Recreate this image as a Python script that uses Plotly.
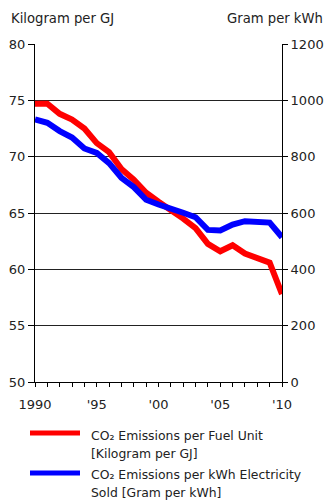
import plotly.graph_objects as go

years = list(range(1990, 2011))
fuel_kg_per_gj = [74.7, 74.7, 73.8, 73.3, 72.5, 71.2, 70.4, 68.9, 67.95, 66.8, 66.0,
                  65.3, 64.5, 63.65, 62.26, 61.6, 62.14, 61.4, 61.0, 60.6, 57.8]
elec_g_per_kwh = [932, 920, 891, 868, 829, 813, 777, 725, 692, 647, 630,
                  617, 601, 585, 540, 538, 559, 571, 566, 566, 514]
tick_vals = [1990, 1995, 2000, 2005, 2010]
tick_text = ["1990", "'95", "'00", "'05", "'10"]
series_names = [["CO₂ Emissions per Fuel Unit", "[Kilogram per GJ]"],
                ["CO₂ Emissions per kWh Electricity", "Sold [Gram per kWh]"]]
series_colors = ["#ff0000", "#0000ff"]

font = "DejaVu Sans, Verdana, sans-serif"
W, H = 327, 501

fig = go.Figure()
fig.add_trace(go.Scatter(x=years, y=fuel_kg_per_gj, mode="lines",
                         line=dict(color=series_colors[0], width=6),
                         name=" ".join(series_names[0])))
fig.add_trace(go.Scatter(x=years, y=elec_g_per_kwh, mode="lines", yaxis="y2",
                         line=dict(color=series_colors[1], width=6),
                         name=" ".join(series_names[1])))

# window-pixel layout (page margin removed below)
L, T = 35, 44
R = W - 282
B = H - 382
pw, ph = W - L - R, H - T - B
def px(x):
    return (x - L) / pw
def py(y):
    return (H - B - y) / ph

shapes = []
annotations = []
legend_rows = [(433, 435, 453), (473, 474, 492)]
for (ly, t1, t2), names, col in zip(legend_rows, series_names, series_colors):
    shapes.append(dict(type="line", xref="paper", yref="paper",
                       x0=px(30), x1=px(80), y0=py(ly), y1=py(ly),
                       line=dict(color=col, width=5)))
    annotations.append(dict(text=names[0], xref="paper", yref="paper", x=px(89), y=py(t1),
                            xanchor="left", yanchor="middle", showarrow=False,
                            font=dict(size=12.4, color="#222")))
    annotations.append(dict(text=names[1], xref="paper", yref="paper", x=px(89), y=py(t2),
                            xanchor="left", yanchor="middle", showarrow=False,
                            font=dict(size=12.4, color="#222")))

annotations += [
    dict(text="Kilogram per GJ", xref="paper", yref="paper", x=px(9), y=py(19),
         xanchor="left", yanchor="middle", showarrow=False,
         font=dict(size=13.2, color="#222")),
    dict(text="Gram per kWh", xref="paper", yref="paper", x=px(325), y=py(19),
         xanchor="right", yanchor="middle", showarrow=False,
         font=dict(size=13.2, color="#222")),
]

fig.update_layout(
    width=W, height=H,
    margin=dict(l=L, r=R, t=T, b=B),
    paper_bgcolor="white", plot_bgcolor="white",
    font=dict(family=font, size=13, color="#222"),
    showlegend=False,
    xaxis=dict(range=[1990, 2010], tickvals=tick_vals, ticktext=tick_text,
               ticks="outside", ticklen=4, tickcolor="#000", ticklabelstandoff=6,
               showline=True, linecolor="#000", linewidth=1,
               showgrid=False, zeroline=False, automargin=False,
               minor=dict(dtick=1, ticks="outside", ticklen=4, tickcolor="#000", showgrid=False)),
    yaxis=dict(range=[50, 80], dtick=5, ticks="outside", ticklen=6, tickcolor="#000",
               showline=True, linecolor="#000", linewidth=1, automargin=False,
               showgrid=True, gridcolor="#222", gridwidth=1, zeroline=False),
    yaxis2=dict(range=[0, 1200], dtick=200, overlaying="y", side="right",
                ticks="outside", ticklen=5, tickcolor="#000",
                showline=True, linecolor="#000", linewidth=1, automargin=False,
                showgrid=False, zeroline=False),
    shapes=shapes,
    annotations=annotations,
)

fig.write_html("out.html", config={"displayModeBar": False},
               post_script="document.body.style.margin='0';document.body.style.overflow='hidden';")
